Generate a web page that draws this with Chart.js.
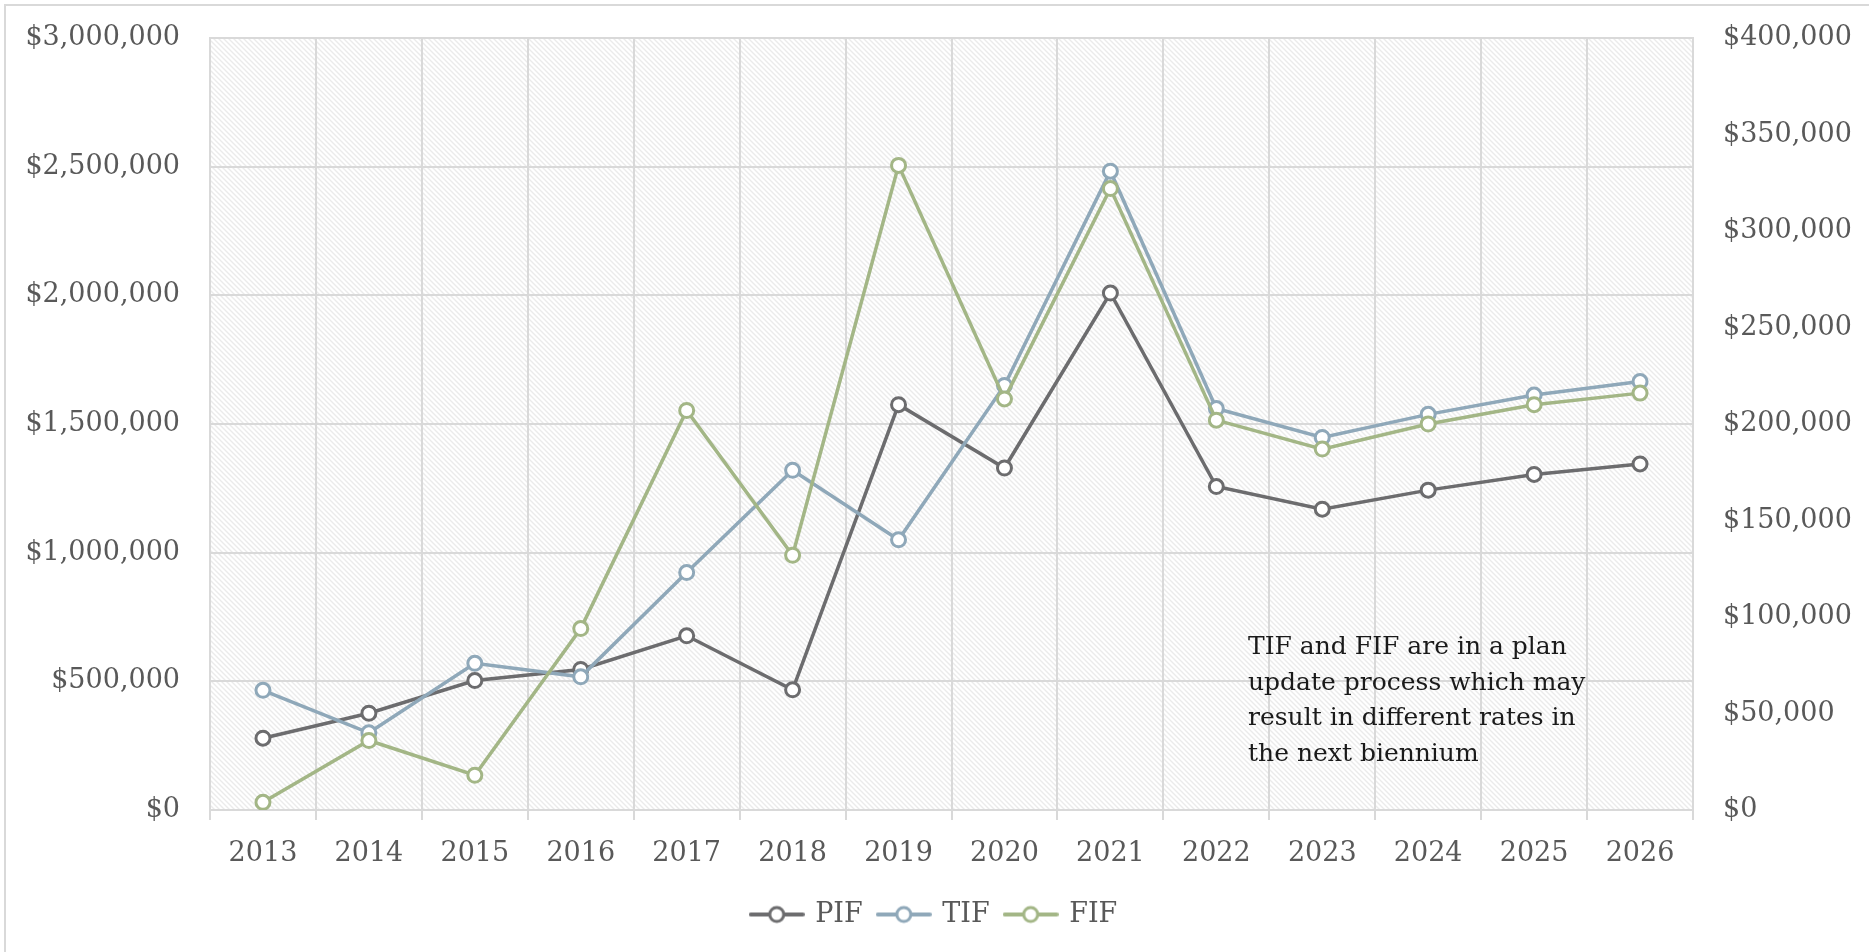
<!DOCTYPE html>
<html>
<head>
<meta charset="utf-8">
<script src="https://cdn.jsdelivr.net/npm/chart.js@4.4.0/dist/chart.umd.min.js"></script>
<style>
  html, body { margin: 0; padding: 0; background: #fff; }
  #wrap { width: 1869px; height: 952px; }
</style>
</head>
<body>
<div id="wrap"><canvas id="lineChart"></canvas></div>
<script>
// values
const years = ['2013', '2014', '2015', '2016', '2017', '2018', '2019', '2020', '2021', '2022', '2023', '2024', '2025', '2026'];
const pif = [279000, 376000, 503000, 546000, 677000, 467000, 1575000, 1329000, 2009000, 1257000, 1169000, 1243000, 1304000, 1345000];
const tif = [62000, 40000, 76000, 69000, 123000, 176000, 140000, 220000, 331000, 208000, 193000, 205000, 215000, 222000];
const fif = [4000, 36000, 18000, 94000, 207000, 132000, 334000, 213000, 322000, 202000, 187000, 200000, 210000, 216000];
const noteLines = ['TIF and FIF are in a plan', 'update process which may', 'result in different rates in', 'the next biennium'];

const colPIF = '#6c6c6e';
const colTIF = '#8fa8b9';
const colFIF = '#a3b686';
const gridCol = '#d9d9d9';
const textCol = '#595959';
const fontFam = '"DejaVu Serif", serif';

function money(v) {
    return '$' + Number(v).toLocaleString('en-US');
}

// little line+circle marker for the legend
function legendMark(color) {
    const c = document.createElement('canvas');
    c.width = 56;
    c.height = 22;
    const g = c.getContext('2d');
    g.strokeStyle = color;
    g.lineWidth = 4;
    g.lineCap = 'round';
    g.beginPath();
    g.moveTo(2, 11);
    g.lineTo(54, 11);
    g.stroke();
    g.beginPath();
    g.arc(28, 11, 7, 0, Math.PI * 2);
    g.fillStyle = '#fff';
    g.fill();
    g.lineWidth = 3;
    g.stroke();
    return c;
}
const marks = [legendMark(colPIF), legendMark(colTIF), legendMark(colFIF)];

// diagonal hatch for the plot area
function hatch(ctx) {
    const c = document.createElement('canvas');
    c.width = 5;
    c.height = 5;
    const g = c.getContext('2d');
    g.fillStyle = '#fff';
    g.fillRect(0, 0, 5, 5);
    g.strokeStyle = '#ebebeb';
    g.lineWidth = 1.4;
    g.beginPath();
    g.moveTo(-1, -1); g.lineTo(6, 6);
    g.moveTo(-1, 4); g.lineTo(1, 6);
    g.moveTo(4, -1); g.lineTo(6, 1);
    g.stroke();
    return ctx.createPattern(c, 'repeat');
}

const backPlugin = {
    id: 'back',
    beforeDraw(chart) {
        const {ctx, chartArea: a} = chart;
        ctx.save();
        ctx.fillStyle = '#fff';
        ctx.fillRect(0, 0, chart.width, chart.height);
        ctx.strokeStyle = '#d9d9d9';
        ctx.lineWidth = 2;
        ctx.strokeRect(5, 5, chart.width + 20, chart.height + 20);
        ctx.fillStyle = hatch(ctx);
        ctx.fillRect(a.left, a.top, a.right - a.left, a.bottom - a.top);
        ctx.restore();
    },
    beforeDatasetsDraw(chart) {
        const {ctx, chartArea: a} = chart;
        ctx.save();
        ctx.strokeStyle = gridCol;
        ctx.lineWidth = 2;
        ctx.strokeRect(a.left, a.top, a.right - a.left, a.bottom - a.top);
        ctx.restore();
    },
    afterDraw(chart) {
        const ctx = chart.ctx;
        ctx.save();
        ctx.fillStyle = '#1a1a1a';
        ctx.font = '25px ' + fontFam;
        ctx.textBaseline = 'alphabetic';
        ctx.textAlign = 'left';
        noteLines.forEach((t, i) => ctx.fillText(t, 1248, 654 + i * 35.5));
        ctx.restore();
    }
};

// fixed axis widths, no extra top/bottom padding from the labels
function fitY(w) {
    return function(s) {
        s.width = w;
        s.paddingTop = 0;
        s.paddingBottom = 0;
    };
}

const ctx = document.getElementById('lineChart').getContext('2d');

const chart = new Chart(ctx, {
    type: 'line',
    data: {
        labels: years,
        datasets: [
            {label: 'PIF', data: pif, yAxisID: 'y', borderColor: colPIF, order: 2},
            {label: 'TIF', data: tif, yAxisID: 'y1', borderColor: colTIF, order: 1},
            {label: 'FIF', data: fif, yAxisID: 'y1', borderColor: colFIF, order: 0}
        ].map(d => Object.assign(d, {
            borderWidth: 3.5,
            pointRadius: 7,
            pointHoverRadius: 7,
            pointBorderWidth: 3,
            pointBackgroundColor: '#fff',
            pointBorderColor: d.borderColor,
            tension: 0
        }))
    },
    options: {
        responsive: true,
        maintainAspectRatio: false,
        animation: false,
        layout: {
            padding: {top: 38, left: 0, right: 0, bottom: 14}
        },
        scales: {
            x: {
                offset: true,
                grid: {
                    offset: true,
                    color: gridCol,
                    lineWidth: 2,
                    tickLength: 10,
                    tickColor: gridCol
                },
                border: {color: gridCol, width: 2},
                ticks: {
                    color: textCol,
                    padding: 18,
                    maxRotation: 0,
                    font: {family: fontFam, size: 27}
                },
                afterFit(s) { s.height = 75; }
            },
            y: {
                position: 'left',
                min: 0,
                max: 3000000,
                grid: {color: gridCol, lineWidth: 2, drawTicks: false},
                border: {color: gridCol, width: 2},
                ticks: {
                    stepSize: 500000,
                    color: textCol,
                    padding: 30,
                    font: {family: fontFam, size: 27},
                    callback: money
                },
                afterFit: fitY(210)
            },
            y1: {
                position: 'right',
                min: 0,
                max: 400000,
                grid: {drawOnChartArea: false, drawTicks: false},
                border: {color: gridCol, width: 2},
                ticks: {
                    stepSize: 50000,
                    color: textCol,
                    padding: 30,
                    font: {family: fontFam, size: 27},
                    callback: money
                },
                afterFit: fitY(176)
            }
        },
        plugins: {
            legend: {
                display: true,
                position: 'bottom',
                labels: {
                    usePointStyle: true,
                    pointStyleWidth: 50,
                    boxHeight: 20,
                    padding: 16,
                    color: textCol,
                    font: {family: fontFam, size: 27},
                    sort: (a, b) => a.datasetIndex - b.datasetIndex,
                    generateLabels(ch) {
                        const items = Chart.defaults.plugins.legend.labels.generateLabels(ch);
                        items.forEach(it => { it.pointStyle = marks[it.datasetIndex]; });
                        return items;
                    }
                }
            },
            tooltip: {enabled: false}
        }
    },
    plugins: [backPlugin]
});
</script>
</body>
</html>
